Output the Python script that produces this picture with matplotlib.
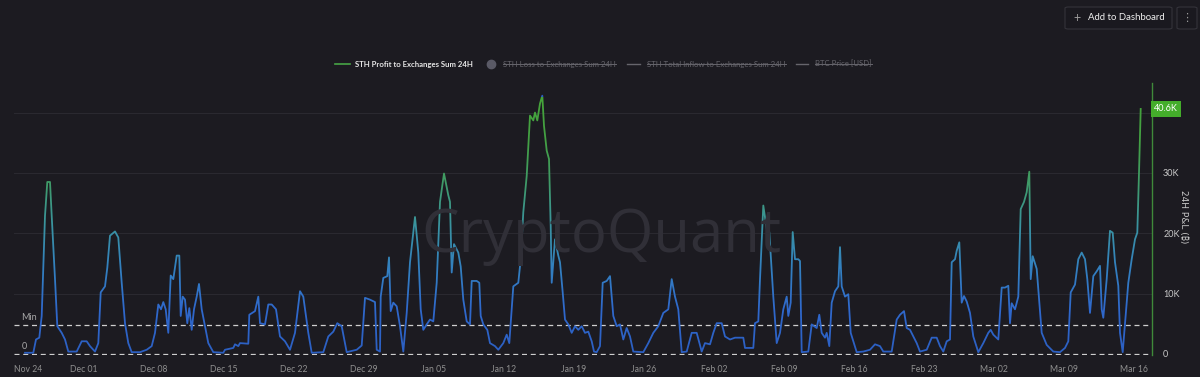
import matplotlib
matplotlib.use("Agg")
import matplotlib.pyplot as plt
import matplotlib.dates as mdates
from matplotlib.colors import LinearSegmentedColormap
from matplotlib.patches import Rectangle, FancyBboxPatch
from matplotlib.lines import Line2D
from matplotlib.transforms import blended_transform_factory
import numpy as np
from datetime import datetime

# STH profit sent to exchanges, 24h sum (thousand BTC)
# day_offset = days since 2024-11-24 00:00
day_offset = [
    1.1, 1.93, 2.2, 2.53, 2.77, 3.1, 3.33, 3.6, 3.77, 4.1, 4.33, 4.53, 4.77, 5.1, 5.43,
    6.27, 6.77, 7.27, 7.6, 8.1, 8.43, 8.67, 9.1, 9.33, 9.6, 10.1, 10.43, 10.77, 11.1,
    11.43, 11.77, 12.6, 13.27, 13.77, 14.1, 14.43, 14.7, 14.93, 15.17, 15.43, 15.67,
    15.93, 16.27, 16.53, 16.67, 16.87, 17.1, 17.33, 17.53, 17.77, 18.0, 18.27, 18.5,
    18.77, 19.1, 19.43, 19.93, 20.93, 21.1, 21.93, 22.1, 22.43, 22.6, 23.43, 23.53,
    24.1, 24.43, 24.6, 25.1, 25.43, 25.77, 26.2, 26.6, 27.1, 27.6, 28.1, 28.6, 28.93,
    29.43, 29.77, 30.93, 31.43, 31.93, 32.33, 32.77, 33.27, 34.27, 34.77, 35.1, 35.6,
    36.1, 36.27, 36.6, 36.67, 36.93, 37.33, 37.5, 37.67, 37.93, 38.27,
    38.6, 38.93, 39.27, 39.6, 40.1, 40.43, 40.67, 40.93, 41.27, 41.6, 41.93, 42.27,
    42.6, 43.0, 43.43, 43.6, 43.77, 44.0, 44.43, 44.67, 44.93, 45.27, 45.6, 45.77,
    46.27, 46.53, 46.67, 46.93, 47.33, 47.6, 48.1, 48.43, 48.93, 49.27, 49.53, 49.67,
    49.93, 50.43, 50.67, 50.93, 51.27, 51.6, 51.93, 52.1, 52.33, 52.6, 52.83, 53.0,
    53.27, 53.5, 53.67, 53.77, 54.1, 54.43, 54.6, 54.87, 55.1, 55.43, 55.77, 56.1,
    56.43, 56.77, 57.1, 57.43, 57.77, 58.0, 58.27, 58.6, 58.87, 59.27, 59.6, 59.93,
    60.27, 60.6, 60.93, 61.27, 61.6, 61.93, 62.93, 63.43, 63.93, 64.43, 64.93, 65.43,
    65.77, 66.1, 66.43, 66.77, 67.27, 67.77, 68.27, 68.77, 69.1, 69.6, 69.93, 70.27,
    70.77, 71.1, 71.6, 72.1, 72.93, 73.1, 73.93, 74.1, 74.43, 74.6, 74.93, 75.27,
    75.53, 75.93, 76.27, 76.6, 76.93, 77.27, 77.43, 77.67, 77.87, 78.1, 78.43, 78.6,
    78.77, 79.43, 79.77, 80.27, 80.53, 80.77, 81.1, 81.27, 81.53, 81.77, 82.1, 82.43,
    82.6, 82.77, 83.1, 83.43, 83.67, 84.27, 84.93, 85.6, 86.1, 86.6, 86.93, 87.77,
    88.27, 88.6, 89.0, 89.27, 89.6, 89.93, 90.27, 90.6, 91.27, 91.77, 92.27, 92.6,
    92.93, 93.27, 93.6, 93.77, 94.1, 94.27, 94.53, 94.77, 95.0, 95.27, 95.6, 95.93,
    96.43, 96.93, 97.43, 97.67, 97.93, 98.43, 98.77, 99.1, 99.43, 99.6, 99.77, 100.1,
    100.43, 100.67, 101.0, 101.27, 101.53, 101.67, 101.87, 102.27, 102.53, 102.77,
    103.27, 103.93, 104.6, 105.1, 105.43, 105.67, 106.1, 106.43, 106.77, 107.1, 107.33,
    107.6, 107.93, 108.27, 108.6, 108.77, 108.93, 109.27, 109.6, 109.87, 110.1, 110.43,
    110.6, 110.87, 111.1, 111.43, 111.77, 112.1, 112.33, 112.5, 112.67,
]
profit_k = [
    0.2, 0.2, 2.4, 2.7, 6.3, 22.9, 28.5, 28.5, 22.9, 12.4, 4.6, 4.1, 3.5, 2.4, 0.4,
    0.4, 2.1, 2.1, 1.3, 0.4, 1.8, 10.2, 11.2, 14.3, 19.6, 20.3, 19.3, 11.8, 5.1,
    1.8, 0.3, 0.3, 0.7, 1.3, 3.5, 8.2, 7.4, 8.6, 7.4, 3.5, 13.0,
    12.4, 16.3, 16.3, 6.3, 9.5, 9.0, 5.1, 7.6, 4.0, 7.4, 9.5, 11.6,
    7.4, 4.6, 1.8, 0.3, 0.2, 0.7, 1.0, 1.6, 1.3, 1.8, 1.7, 6.5,
    7.1, 9.5, 5.1, 4.9, 8.2, 8.2, 7.4, 2.9, 2.1, 0.7, 3.5, 10.4, 9.5,
    3.5, 0.2, 0.3, 2.9, 3.7, 5.1, 4.6, 0.3, 0.7, 1.4, 9.3, 9.0,
    8.6, 0.7, 0.4, 9.5, 12.6, 12.9, 16.0, 7.1, 8.5, 7.9,
    4.6, 0.4, 6.8, 15.2, 22.7, 16.8, 7.4, 4.0, 4.9, 5.7, 5.4, 11.8,
    25.2, 29.9, 26.3, 25.2, 13.5, 18.2, 16.8, 14.5, 9.0, 5.4, 4.9, 12.1,
    12.1, 11.8, 6.3, 4.9, 4.0, 1.8, 1.3, 0.7, 1.8, 3.2, 1.8, 5.1,
    11.2, 11.8, 15.7, 23.5, 29.5, 39.5, 38.7, 40.0, 38.7, 41.5, 42.8, 37.8,
    33.7, 32.3, 21.2, 11.8, 19.0, 16.3, 15.2, 10.2, 5.7, 4.9, 3.5, 4.6,
    4.0, 4.6, 3.5, 3.7, 2.1, 0.4, 0.3, 1.3, 11.8, 12.1, 12.9, 6.3,
    4.6, 4.9, 2.4, 4.3, 2.9, 0.4, 0.3, 1.8, 3.5, 4.6, 6.8, 7.4,
    12.4, 9.5, 7.4, 0.3, 0.4, 3.5, 3.5, 0.4, 1.8, 1.6, 3.5, 5.1,
    5.1, 2.9, 2.4, 2.7, 2.7, 1.0, 1.0, 5.1, 5.4, 12.4, 24.6, 20.7,
    20.2, 9.5, 1.8, 3.5, 7.4, 9.5, 6.3, 8.5, 20.2, 15.7, 15.7, 15.4,
    0.3, 0.4, 4.9, 4.3, 6.5, 3.5, 2.7, 3.5, 1.3, 8.5, 10.4, 11.2,
    17.7, 11.2, 9.5, 9.9, 3.5, 0.3, 0.4, 0.7, 1.6, 1.3, 0.4, 0.4,
    5.7, 6.5, 7.1, 4.3, 4.0, 2.9, 1.8, 0.4, 0.7, 2.7, 2.7, 1.3,
    0.4, 2.1, 2.4, 15.2, 15.7, 17.1, 18.5, 8.5, 9.6, 8.7, 6.8, 2.9,
    0.3, 1.8, 3.5, 4.0, 3.2, 2.4, 11.0, 11.0, 11.3, 5.1, 8.4, 7.4,
    9.5, 24.0, 25.2, 26.8, 30.2, 12.4, 16.2, 14.1, 8.5, 3.5,
    1.5, 0.4, 0.3, 1.0, 2.1, 10.2, 11.5, 15.7, 16.8, 15.7, 12.4,
    6.8, 12.9, 13.7, 14.6, 7.4, 6.0, 12.4, 20.4, 20.1, 15.2, 11.3,
    3.5, 0.3, 5.1, 11.8, 15.7, 19.0, 20.1, 30.0, 40.6,
]

legend_labels = ["STH Profit to Exchanges Sum 24H", "STH Loss to Exchanges Sum 24H",
                 "STH Total Inflow to Exchanges Sum 24H", "BTC Price [USD]"]
y_ticks = [0, 10, 20, 30]
grid_levels = [10, 20, 30, 40]
min_level = 4.8
last_value = 40.6

bg = "#1c1b21"
font = ["Lato", "DejaVu Sans"]
plt.rcParams["font.family"] = font

start = mdates.date2num(datetime(2024, 11, 24))
x = start + np.array(day_offset)
y = np.array(profit_k)

fig = plt.figure(figsize=(12, 3.77), dpi=100, facecolor=bg)
ax = fig.add_axes([14 / 1200, 22 / 377, 1138 / 1200, 272 / 377])
ax.set_facecolor(bg)
ax.set_xlim(start, start + 113.8)
ax.set_ylim(-0.17, 44.9)

for g in grid_levels:
    ax.axhline(g, color="#2a2930", lw=0.8, zorder=1)
for lv in [0, min_level]:
    ax.axhline(lv, color="#cfcfcf", lw=0.9, ls=(0, (4, 3)), zorder=2)

# line coloured by height: blue low, green high
cmap = LinearSegmentedColormap.from_list(
    "pnl", ["#2c5fc2", "#2f68cc", "#3380bf", "#3a93a0", "#3f9a68", "#43a044", "#45a33a"])
band = 0.5
for lo in np.arange(0, 45, band):
    ln, = ax.plot(x, y, color=cmap(min(lo / 42, 1)), lw=1.3, zorder=3,
                  solid_joinstyle="round")
    clip = Rectangle((start - 5, lo if lo > 0 else -5), 130, band if lo > 0 else band + 5,
                     transform=ax.transData)
    ln.set_clip_path(clip)

for s in ["top", "left", "bottom"]:
    ax.spines[s].set_visible(False)
ax.spines["right"].set_color("#3f8a3a")
ax.spines["right"].set_linewidth(1.0)

ax.yaxis.tick_right()
ax.set_yticks(y_ticks)
ax.set_yticklabels([f"{v}K" if v else "0" for v in y_ticks])
ax.tick_params(axis="y", length=0, pad=8, labelsize=6.5, labelcolor="#c8c8c8")

ax.xaxis.set_major_locator(mdates.WeekdayLocator(byweekday=mdates.SU))
ax.xaxis.set_major_formatter(mdates.DateFormatter("%b %d"))
ax.tick_params(axis="x", length=0, pad=7, labelsize=6.2, labelcolor="#8f8f8f")
for lab in ax.get_xticklabels():
    if lab.get_text() == "Nov 24":
        lab.set_ha("left")

ax.text(0.006, min_level + 0.5, "Min", transform=blended_transform_factory(ax.transAxes, ax.transData),
        color="#a8a8a8", fontsize=6.5, va="bottom")
ax.text(0.007, 0.5, "0", transform=blended_transform_factory(ax.transAxes, ax.transData),
        color="#a8a8a8", fontsize=6.5, va="bottom")

# last value tag
ax.text(1.002, last_value, f"{last_value}K", transform=blended_transform_factory(ax.transAxes, ax.transData),
        color="white", fontsize=6.5, va="center", ha="left",
        bbox=dict(boxstyle="square,pad=0.35", fc="#44ad2b", ec="none"))

fig.text(1183 / 1200, 1 - 217 / 377, "24H P&L (₿)", rotation=270, color="#c8c8c8",
         fontsize=6.5, ha="center", va="center",
         family=["DejaVu Sans", "Noto Sans", "Roboto", "Open Sans", "Inter", "Liberation Sans"])

# watermark
fig.text(601 / 1200, 1 - 236 / 377, "CryptoQuant", color="#302f37", fontsize=43,
         ha="center", va="center", zorder=0, family=["Open Sans", "DejaVu Sans"])

# legend
ly = 1 - 64 / 377
fs_leg = 5.6
fig.add_artist(Line2D([335 / 1200, 350 / 1200], [ly, ly], color="#47a546", lw=1.2))
t0 = fig.text(355 / 1200, ly, legend_labels[0], color="#e6e6e6", fontsize=fs_leg, va="center",
              fontweight="bold")
fig.add_artist(Line2D([491 / 1200], [ly], marker="o", ms=6, color="#5a5a66", lw=0))
grey = "#66656c"
t1 = fig.text(503 / 1200, ly, legend_labels[1], color=grey, fontsize=fs_leg, va="center")
fig.add_artist(Line2D([627 / 1200, 640 / 1200], [ly, ly], color=grey, lw=1))
t2 = fig.text(647 / 1200, ly, legend_labels[2], color=grey, fontsize=fs_leg, va="center")
fig.add_artist(Line2D([796 / 1200, 808 / 1200], [ly, ly], color=grey, lw=1))
t3 = fig.text(815 / 1200, ly, legend_labels[3], color=grey, fontsize=fs_leg, va="center")

# top-right buttons
fig.add_artist(FancyBboxPatch((1065 / 1200, 1 - 29 / 377), 107 / 1200, 22 / 377,
                              boxstyle="round,pad=0,rounding_size=0.003",
                              fc="#1a191f", ec="#34333a", lw=0.8, transform=fig.transFigure))
fig.add_artist(FancyBboxPatch((1177 / 1200, 1 - 29 / 377), 20 / 1200, 22 / 377,
                              boxstyle="round,pad=0,rounding_size=0.003",
                              fc="#1a191f", ec="#34333a", lw=0.8, transform=fig.transFigure))
fig.text(1077 / 1200, 1 - 18 / 377, "+", color="#9a9a9a", fontsize=9, ha="center", va="center")
fig.text(1088 / 1200, 1 - 18 / 377, "Add to Dashboard", color="#f0f0f0", fontsize=6.9, va="center")
fig.text(1187 / 1200, 1 - 18 / 377, "⋮", color="#9a9a9a", fontsize=8, ha="center", va="center",
         family=["DejaVu Sans"])

# strike through the hidden series
fig.canvas.draw()
r = fig.canvas.get_renderer()
for t in [t1, t2, t3]:
    bb = t.get_window_extent(r).transformed(fig.transFigure.inverted())
    ym = (bb.y0 + bb.y1) / 2
    fig.add_artist(Line2D([bb.x0, bb.x1], [ym, ym], color=grey, lw=0.7))

fig.savefig("out.png", dpi=100, facecolor=bg)
